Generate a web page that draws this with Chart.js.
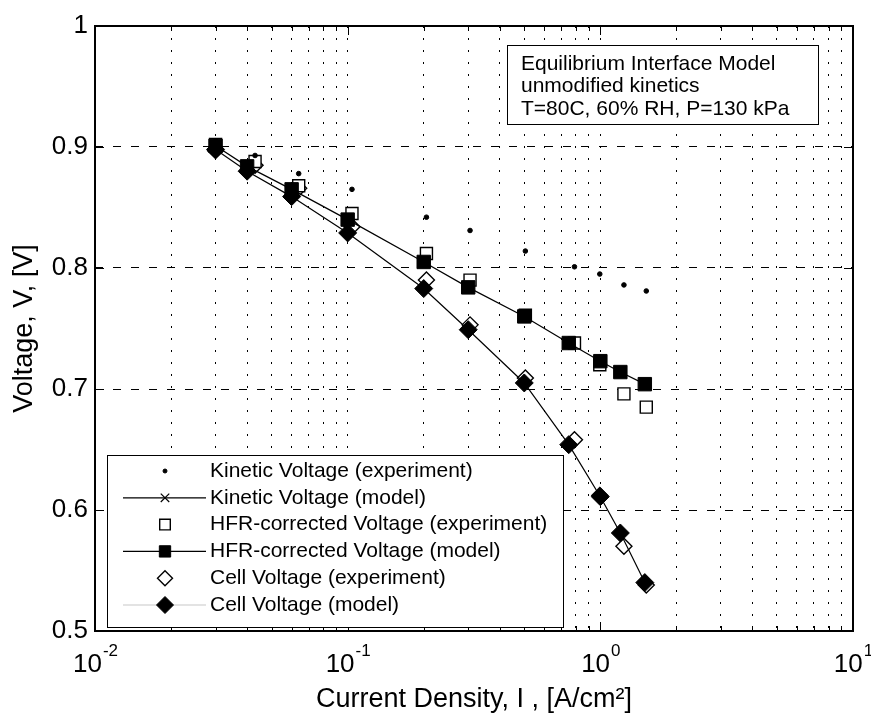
<!DOCTYPE html>
<html>
<head>
<meta charset="utf-8">
<script src="https://cdn.jsdelivr.net/npm/chart.js@4.4.0/dist/chart.umd.min.js"></script>
<style>
  html, body { margin: 0; padding: 0; background: #fff; }
</style>
</head>
<body>
<canvas id="chart" width="871" height="720"></canvas>
<script>
// current density, A/cm2
const modelCurrent = [0.03, 0.04, 0.06, 0.1, 0.2, 0.3, 0.5, 0.75, 1.0, 1.2, 1.5];
const exptCurrent = [0.03, 0.043, 0.064, 0.104, 0.205, 0.305, 0.505, 0.79, 0.995, 1.24, 1.52];

// voltages, V
const kineticExpt = [0.905, 0.893, 0.878, 0.865, 0.842, 0.831, 0.814, 0.801, 0.795, 0.786, 0.781];
const kineticModel = []; // not visible on the plot
const hfrExpt = [0.902, 0.888, 0.868, 0.845, 0.812, 0.790, 0.761, 0.738, 0.720, 0.696, 0.685];
const hfrModel = [0.901, 0.884, 0.865, 0.840, 0.805, 0.784, 0.760, 0.738, 0.723, 0.714, 0.704];
const cellExpt = [0.897, 0.885, 0.866, 0.834, 0.790, 0.753, 0.709, 0.658, 0.612, 0.570, 0.538];
const cellModel = [0.898, 0.880, 0.859, 0.829, 0.783, 0.749, 0.705, 0.654, 0.611, 0.581, 0.540];

const seriesLabels = [
  'Kinetic Voltage (experiment)',
  'Kinetic Voltage (model)',
  'HFR-corrected Voltage (experiment)',
  'HFR-corrected Voltage (model)',
  'Cell Voltage (experiment)',
  'Cell Voltage (model)'
];

const noteLines = ['Equilibrium Interface Model', 'unmodified kinetics', 'T=80C, 60% RH, P=130 kPa'];

const xDecades = [0.01, 0.1, 1, 10];
const xExponents = ['-2', '-1', '0', '1'];
const yTicks = [0.5, 0.6, 0.7, 0.8, 0.9, 1.0];

const FONT = "'Liberation Sans', Arial, Helvetica, sans-serif";
Chart.defaults.font.family = FONT;
Chart.defaults.color = '#000';

// grid values: 1..9 in each decade
const xGrid = [];
for (let d = 0; d < xDecades.length - 1; d++) {
  for (let m = 1; m <= 9; m++) xGrid.push(xDecades[d] * m);
}
xGrid.push(xDecades[xDecades.length - 1]);

function pairs(xs, ys) {
  return ys.map((y, i) => ({ x: xs[i], y: y }));
}

const datasets = [
  {
    label: seriesLabels[0], data: pairs(exptCurrent, kineticExpt),
    showLine: false, pointStyle: 'circle', pointRadius: 2.3,
    pointBackgroundColor: '#000', pointBorderColor: '#000', pointBorderWidth: 1,
    legendRadius: 2, order: 2
  },
  {
    label: seriesLabels[1], data: pairs(modelCurrent, kineticModel),
    showLine: true, borderColor: '#000', borderWidth: 1.2, pointStyle: 'crossRot', pointRadius: 6,
    pointBackgroundColor: '#000', pointBorderColor: '#000', pointBorderWidth: 1.2,
    legendRadius: 6, legendLine: '#000', order: 1
  },
  {
    label: seriesLabels[2], data: pairs(exptCurrent, hfrExpt),
    showLine: false, pointStyle: 'rect', pointRadius: 8.5,
    pointBackgroundColor: '#fff', pointBorderColor: '#000', pointBorderWidth: 1.4,
    legendRadius: 7.5, order: 2
  },
  {
    label: seriesLabels[3], data: pairs(modelCurrent, hfrModel),
    showLine: true, borderColor: '#000', borderWidth: 1.2, pointStyle: 'rect', pointRadius: 9.5,
    pointBackgroundColor: '#000', pointBorderColor: '#000', pointBorderWidth: 1,
    legendRadius: 8, legendLine: '#000', order: 1
  },
  {
    label: seriesLabels[4], data: pairs(exptCurrent, cellExpt),
    showLine: false, pointStyle: 'rectRot', pointRadius: 8,
    pointBackgroundColor: '#fff', pointBorderColor: '#000', pointBorderWidth: 1.4,
    legendRadius: 7.5, order: 2
  },
  {
    label: seriesLabels[5], data: pairs(modelCurrent, cellModel),
    showLine: true, borderColor: '#000', borderWidth: 1.2, pointStyle: 'rectRot', pointRadius: 9,
    pointBackgroundColor: '#000', pointBorderColor: '#000', pointBorderWidth: 1,
    legendRadius: 8.5, legendLine: '#c8c8c8', order: 1
  }
];

// frame, inward ticks, x labels with exponents, legend box and the note box
const decorations = {
  id: 'decorations',
  afterDraw(chart) {
    const ctx = chart.ctx;
    const a = chart.chartArea;
    const xs = chart.scales.x, ys = chart.scales.y;
    ctx.save();
    ctx.strokeStyle = '#000';
    ctx.lineWidth = 1;
    ctx.setLineDash([]);

    // inward ticks
    ctx.beginPath();
    xGrid.forEach(v => {
      const px = Math.round(xs.getPixelForValue(v)) + 0.5;
      const major = xDecades.some(d => Math.abs(d - v) < 1e-9);
      const len = major ? 9 : 5;
      ctx.moveTo(px, a.bottom); ctx.lineTo(px, a.bottom - len);
      ctx.moveTo(px, a.top); ctx.lineTo(px, a.top + len);
    });
    yTicks.forEach(v => {
      const py = Math.round(ys.getPixelForValue(v)) + 0.5;
      ctx.moveTo(a.left, py); ctx.lineTo(a.left + 9, py);
      ctx.moveTo(a.right, py); ctx.lineTo(a.right - 9, py);
    });
    ctx.stroke();

    // axes box
    ctx.lineWidth = 2;
    ctx.strokeRect(a.left, a.top, a.right - a.left, a.bottom - a.top);

    // x tick labels: 10 with raised exponent
    ctx.fillStyle = '#000';
    ctx.textBaseline = 'alphabetic';
    ctx.textAlign = 'left';
    xDecades.forEach((v, i) => {
      const px = xs.getPixelForValue(v);
      ctx.font = '26px ' + FONT;
      const wBase = ctx.measureText('10').width;
      ctx.font = '17px ' + FONT;
      const wExp = ctx.measureText(xExponents[i]).width;
      const x0 = px - (wBase + wExp) / 2;
      ctx.font = '26px ' + FONT;
      ctx.fillText('10', x0, 672);
      ctx.font = '17px ' + FONT;
      ctx.fillText(xExponents[i], x0 + wBase + 1, 656);
    });

    // note box
    const nb = { left: 507, top: 45, right: 818, bottom: 124 };
    ctx.fillStyle = '#fff';
    ctx.fillRect(nb.left, nb.top, nb.right - nb.left, nb.bottom - nb.top);
    ctx.lineWidth = 1;
    ctx.strokeRect(nb.left + 0.5, nb.top + 0.5, nb.right - nb.left, nb.bottom - nb.top);
    ctx.fillStyle = '#000';
    ctx.font = '21px ' + FONT;
    ctx.textBaseline = 'middle';
    noteLines.forEach((t, i) => ctx.fillText(t, nb.left + 14, nb.top + 19 + i * 22.5));

    // legend box
    const lg = { left: 107, top: 455, right: 563, bottom: 627 };
    ctx.fillStyle = '#fff';
    ctx.fillRect(lg.left, lg.top, lg.right - lg.left, lg.bottom - lg.top);
    ctx.strokeRect(lg.left + 0.5, lg.top + 0.5, lg.right - lg.left, lg.bottom - lg.top);
    chart.data.datasets.forEach((ds, i) => {
      const y = lg.top + 16 + i * 26.8;
      if (ds.showLine) {
        ctx.strokeStyle = ds.legendLine;
        ctx.lineWidth = 1.2;
        ctx.beginPath();
        ctx.moveTo(123, y); ctx.lineTo(206, y);
        ctx.stroke();
      }
      ctx.fillStyle = ds.pointBackgroundColor;
      ctx.strokeStyle = ds.pointBorderColor;
      ctx.lineWidth = ds.pointBorderWidth;
      Chart.helpers.drawPoint(ctx, { pointStyle: ds.pointStyle, radius: ds.legendRadius, rotation: 0, borderWidth: ds.pointBorderWidth }, 165, y);
      ctx.fillStyle = '#000';
      ctx.font = '21px ' + FONT;
      ctx.fillText(ds.label, 210, y);
    });
    ctx.restore();
  }
};

const ctx = document.getElementById('chart').getContext('2d');
const chart = new Chart(ctx, {
  type: 'scatter',
  data: { datasets: datasets },
  options: {
    responsive: false,
    animation: false,
    layout: { padding: { top: 26, right: 18, left: 0, bottom: 0 } },
    plugins: { legend: { display: false }, tooltip: { enabled: false } },
    scales: {
      x: {
        type: 'logarithmic',
        min: 0.01, max: 10,
        afterBuildTicks: s => { s.ticks = xGrid.map(v => ({ value: v })); },
        afterFit: s => { s.height = 89; s.paddingLeft = 0; s.paddingRight = 0; },
        ticks: { autoSkip: false, maxRotation: 0, callback: () => '' },
        grid: { color: '#000', lineWidth: 1, drawTicks: false },
        border: { display: false, dash: [2, 10] },
        title: {
          display: true, text: 'Current Density, I , [A/cm\u00B2]',
          font: { size: 27 }, color: '#000', padding: { top: 0, bottom: 4 }
        }
      },
      y: {
        min: 0.5, max: 1.0,
        afterBuildTicks: s => { s.ticks = yTicks.map(v => ({ value: v })); },
        afterFit: s => { s.width = 95; },
        ticks: {
          padding: 7, font: { size: 26 }, color: '#000',
          callback: v => (Math.abs(v - 1) < 1e-9 ? '1' : v.toFixed(1))
        },
        grid: { color: '#000', lineWidth: 1, drawTicks: false },
        border: { display: false, dash: [8, 10] },
        title: {
          display: true, text: 'Voltage, V, [V]',
          font: { size: 27 }, color: '#000', padding: { top: 8, bottom: 0 }
        }
      }
    }
  },
  plugins: [decorations]
});
</script>
</body>
</html>
